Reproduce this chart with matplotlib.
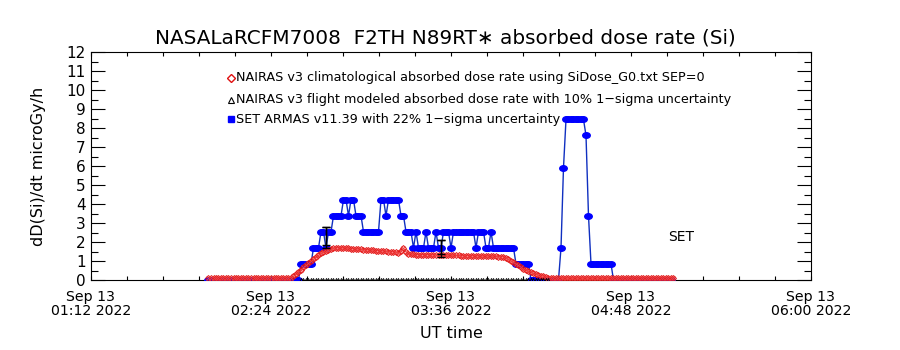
import numpy as np
import matplotlib
matplotlib.use("Agg")
import matplotlib.pyplot as plt
import matplotlib.dates as mdates
from matplotlib.lines import Line2D
from matplotlib.markers import MarkerStyle
from matplotlib.transforms import Affine2D
from datetime import datetime

plt.rcParams['font.family'] = ['DejaVu Sans']

base = datetime(2022, 9, 13, 1, 12)

# minutes after 01:12 UT
red_t0, red_t1 = 47, 233
red_vals = [
    0.10, 0.10, 0.10, 0.10, 0.10, 0.10, 0.10, 0.10, 0.10, 0.10, 0.10,
    0.10, 0.10, 0.10, 0.10, 0.10, 0.10, 0.10, 0.10, 0.10, 0.10, 0.10,
    0.10, 0.10, 0.10, 0.10, 0.10, 0.10, 0.10, 0.10, 0.10, 0.10, 0.10,
    0.12, 0.20, 0.32, 0.44, 0.55, 0.66, 0.77, 0.88, 0.99, 1.10, 1.20,
    1.30, 1.40, 1.48, 1.55, 1.60, 1.65, 1.68, 1.70,
    1.69, 1.69, 1.68, 1.67, 1.66, 1.65, 1.64, 1.63, 1.62, 1.61, 1.60,
    1.59, 1.58, 1.57, 1.56, 1.55, 1.54, 1.53, 1.52, 1.51, 1.50, 1.49,
    1.48, 1.47,
    1.42, 1.55, 1.68, 1.50, 1.36,
    1.35, 1.35, 1.34, 1.34, 1.34, 1.33, 1.33, 1.33, 1.32, 1.32, 1.32,
    1.31, 1.31, 1.31, 1.30, 1.30, 1.30, 1.29, 1.29, 1.29, 1.28, 1.28,
    1.28, 1.27, 1.27, 1.27, 1.26, 1.26, 1.26, 1.25, 1.25, 1.25, 1.24,
    1.24, 1.24, 1.23, 1.23, 1.22,
    1.15, 1.08, 1.00, 0.93, 0.86, 0.78, 0.70, 0.60, 0.52, 0.45, 0.40,
    0.35, 0.30, 0.26, 0.22, 0.19, 0.16, 0.13, 0.11, 0.10,
    0.08, 0.08, 0.08, 0.08, 0.08, 0.08, 0.08, 0.08, 0.08, 0.08, 0.08,
    0.08, 0.08, 0.08, 0.08, 0.08, 0.08, 0.08, 0.08, 0.08, 0.08, 0.08,
    0.08, 0.08, 0.08, 0.08, 0.08, 0.08, 0.08, 0.08, 0.08, 0.08, 0.08,
    0.08, 0.08, 0.08, 0.08, 0.08, 0.08, 0.08, 0.08, 0.08, 0.08, 0.08,
    0.08, 0.08, 0.08, 0.08,
]

blue_t0, blue_t1 = 47, 232
blue_vals = [
    0, 0, 0, 0, 0, 0, 0, 0, 0, 0, 0, 0, 0, 0, 0, 0, 0, 0, 0, 0, 0, 0, 0,
    0, 0, 0, 0, 0, 0, 0, 0, 0, 0, 0, 0, 0, 0,
    0.85, 0.85, 0.85, 0.85, 0.85,
    1.69, 1.69, 1.69,
    2.54, 2.54, 1.69, 2.54, 2.54,
    3.38, 3.38, 3.38, 3.38,
    4.23, 4.23, 3.38, 4.23, 4.23,
    3.38, 3.38, 3.38,
    2.54, 2.54, 2.54, 2.54, 2.54, 2.54, 2.54,
    4.23, 4.23, 3.38, 4.23, 4.23, 4.23, 4.23, 4.23,
    3.38, 3.38,
    2.54, 2.54, 2.54,
    1.69, 2.54, 1.69, 1.69, 1.69,
    2.54, 1.69, 1.69, 1.69, 2.54, 1.69, 1.69,
    2.54, 2.54, 2.54, 1.69, 2.54, 2.54, 2.54, 2.54, 2.54, 2.54, 2.54,
    2.54, 2.54, 1.69, 2.54, 2.54, 2.54,
    1.69, 1.69, 2.54, 1.69, 1.69, 1.69, 1.69, 1.69, 1.69, 1.69, 1.69, 1.69,
    0.85, 0.85, 0.85, 0.85, 0.85, 0.85,
    0, 0, 0, 0, 0, 0, 0, 0, 0, 0, 0, 0,
    1.69, 5.92, 8.45, 8.45, 8.45, 8.45, 8.45, 8.45, 8.45, 8.45, 7.61, 3.38,
    0.85, 0.85, 0.85, 0.85, 0.85, 0.85, 0.85, 0.85, 0.85,
    0, 0, 0, 0, 0, 0, 0, 0, 0, 0, 0, 0, 0, 0, 0, 0, 0, 0, 0, 0, 0, 0, 0, 0,
]

black_t0, black_t1 = 84, 183
black_vals = [0.0] * (black_t1 - black_t0 + 1)

err_t = [94, 140]
err_lo = [1.67, 1.19]
err_lo2 = [1.83, 1.38]
err_hi = [2.79, 2.09]

major_ticks_min = [0, 72, 144, 216, 288]
minor_step_min = 14.4

legend_labels = [
    "NAIRAS v3 climatological absorbed dose rate using SiDose_G0.txt SEP=0",
    "NAIRAS v3 flight modeled absorbed dose rate with 10% 1\u2212sigma uncertainty",
    "SET ARMAS v11.39 with 22% 1\u2212sigma uncertainty",
]

def tnum(mins):
    return mdates.date2num(base) + np.asarray(mins, dtype=float) / 1440.0

red_x = tnum(np.arange(red_t0, red_t1 + 1))
blue_x = tnum(np.arange(blue_t0, blue_t1 + 1))
black_x = tnum(np.arange(black_t0, black_t1 + 1))

fig = plt.figure(figsize=(9, 3.5), dpi=100)
ax = fig.add_axes([91/900, 70/350, 720/900, 228/350])

blue_marker = MarkerStyle('o', transform=Affine2D().scale(1.35, 1.0))
ax.plot(blue_x, blue_vals, color='#1030c0', lw=1.0, marker=blue_marker, ms=4.0,
        mfc='#0000ff', mec='#0000ff', zorder=3)
ax.plot(red_x, red_vals, color='#e01010', lw=0.5, marker='D', ms=3.0, mew=0.7,
        fillstyle='none', zorder=4)
ax.plot(red_x, red_vals, lw=0, marker='x', ms=2.6, mew=0.6, color='#f04040', zorder=4)
ax.plot(black_x, black_vals, color='black', lw=0.6, marker='^', ms=3, mew=0.6,
        fillstyle='none', zorder=5)

ex = tnum(err_t)
hi = np.array(err_hi)
lo = np.array(err_lo)
lo2 = np.array(err_lo2)
ax.errorbar(ex, hi, yerr=[hi - lo, np.zeros_like(hi)], fmt='none', ecolor='black',
            elinewidth=1, capsize=3, capthick=1, zorder=6)
ax.errorbar(ex, hi, yerr=[hi - lo2, np.zeros_like(hi)], fmt='none', ecolor='black',
            elinewidth=1, capsize=3, capthick=1, zorder=6)

ax.set_xlim(tnum(0), tnum(288))
ax.set_ylim(0, 12)
ax.set_yticks(np.arange(0, 13, 1))
ax.set_yticks(np.arange(0.5, 12, 1), minor=True)
ax.xaxis.set_major_locator(matplotlib.ticker.FixedLocator(tnum(major_ticks_min)))
ax.xaxis.set_minor_locator(matplotlib.ticker.FixedLocator(tnum(np.arange(0, 288.1, minor_step_min))))
ax.xaxis.set_major_formatter(mdates.DateFormatter('%b %d\n%H:%M %Y'))

ax.tick_params(axis='both', which='both', direction='in', top=True, right=True, width=0.8)
ax.tick_params(axis='y', which='major', length=10, labelsize=11, pad=4)
ax.tick_params(axis='y', which='minor', length=5)
ax.tick_params(axis='x', which='both', length=3)
ax.tick_params(axis='x', which='major', labelsize=10.2, pad=7)
for lab in ax.get_xticklabels():
    lab.set_linespacing(1.05)
for sp in ax.spines.values():
    sp.set_linewidth(0.8)

ax.set_ylabel("dD(Si)/dt microGy/h", fontsize=11.5)
ax.yaxis.set_label_coords(-0.062, 0.5)
ax.set_xlabel("UT time", fontsize=11.5)
ax.xaxis.set_label_coords(0.5, -0.2)

fig.text(445/900, 1 - 38/350, "NASALaRCFM7008  F2TH N89RT\u2217 absorbed dose rate (Si)",
         ha='center', va='center', fontsize=14.4)

ax.text(tnum(236), 2.25, "SET", ha='center', va='center', fontsize=10)

rows_y = [78, 100, 119]
mk = [dict(marker='D', color='#e01010', ms=4.5, fillstyle='none', mew=1.0),
      dict(marker='^', color='black', ms=4.5, fillstyle='none', mew=0.8),
      dict(marker='s', color='#0000ff', ms=4.5, mfc='#0000ff', mec='#0000ff')]
for yy, lab, m in zip(rows_y, legend_labels, mk):
    fig.add_artist(Line2D([231/900], [1 - yy/350], transform=fig.transFigure, lw=0, **m))
    fig.text(236/900, 1 - yy/350, lab, ha='left', va='center', fontsize=9.15)

fig.savefig("out.png", dpi=100)
